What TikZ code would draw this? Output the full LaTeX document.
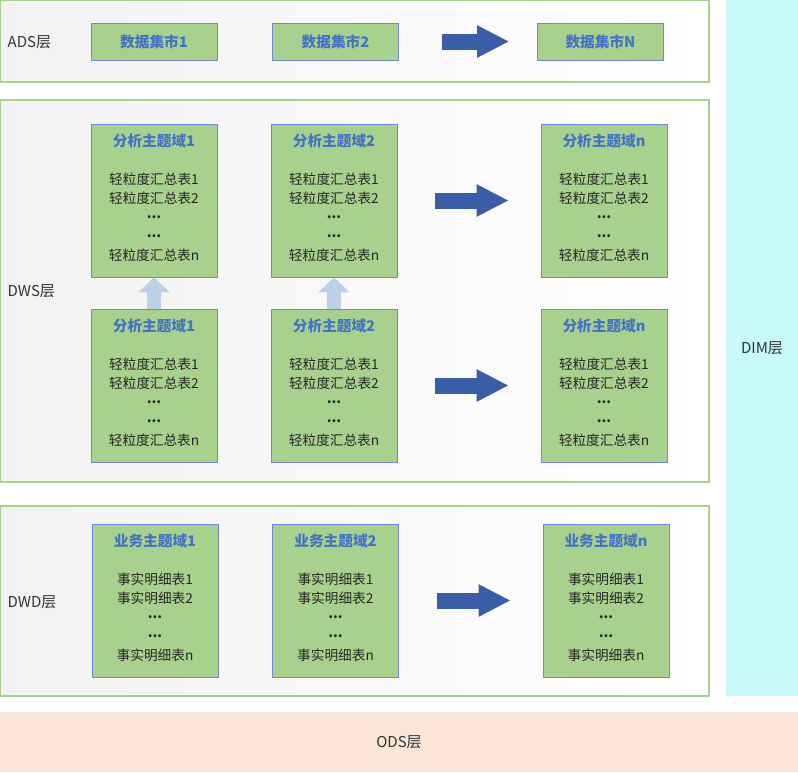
\documentclass[tikz,border=0pt]{standalone}
\usepackage{fontspec}
\setmainfont{Noto Sans CJK SC}
\usetikzlibrary{arrows.meta}
\definecolor{panelgreen}{HTML}{A9D18E}
\definecolor{boxgreen}{HTML}{A9D18E}
\definecolor{boxedge}{HTML}{7088D6}
\definecolor{titleblue}{HTML}{4472C4}
\definecolor{arrowblue}{HTML}{3A5DA8}
\definecolor{liftblue}{HTML}{BDD0EA}
\definecolor{dimcyan}{HTML}{C8FAFA}
\definecolor{odspeach}{HTML}{FBE5D6}
\newcommand\boxtitle[1]{\textcolor{titleblue}{\fontsize{11pt}{14.25pt}\selectfont\bfseries #1}}
\newcommand\moredots{\raisebox{0.28em}{\bfseries...}}
\newcommand\themetext[2]{\boxtitle{#1}\\[14.25pt] #21\\ #22\\ \moredots\\ \moredots\\ #2n\rule[-5.5pt]{0pt}{0pt}}
\tikzset{
  panel/.style={draw=panelgreen, line width=1pt, left color=black!5, right color=white},
  layer/.style={font=\fontsize{11.25pt}{13pt}\selectfont, text=black!80},
  mart/.style={draw=boxedge, fill=boxgreen, minimum width=94.5pt, minimum height=27.75pt, inner sep=0pt},
  theme/.style={draw=boxedge, fill=boxgreen, minimum width=94.5pt, minimum height=114.75pt,
    align=center, inner sep=0pt, font=\fontsize{10.25pt}{14.25pt}\selectfont, text=black!85},
  flow/.style={line width=12pt, draw=arrowblue, -{Triangle[width=22.5pt,length=24pt]},
    shorten <=28.5pt, shorten >=24pt},
  lift/.style={line width=10.5pt, draw=liftblue, -{Triangle[width=22.5pt,length=11.25pt]}}
}
\begin{document}
\begin{tikzpicture}[x=0.75pt, y=-0.75pt]
\useasboundingbox (0,0) rectangle (798,772);
% layers
\draw [panel] (0.7,0.7) rectangle (709,82);
\draw [panel] (0.7,100) rectangle (709,482);
\draw [panel] (0.7,506) rectangle (709,696);
\fill [dimcyan] (726,0) rectangle (798,696);
\fill [odspeach] (0,712) rectangle (798,772);
\node [layer, anchor=west] (adslabel) at (3,42) {ADS层};
\node [layer, anchor=west] (dwslabel) at (3,291) {DWS层};
\node [layer, anchor=west] (dwdlabel) at (3,602) {DWD层};
\node [layer] (dimlabel) at (762,348) {DIM层};
\node [layer] (odslabel) at (399,742) {ODS层};
% ADS
\node [mart] (ads1) at (154,41.5) {\boxtitle{数据集市1}};
\node [mart] (ads2) at (335.5,41.5) {\boxtitle{数据集市2}};
\node [mart] (adsN) at (600.5,41.5) {\boxtitle{数据集市N}};
% DWS
\node [theme] (top1) at (154,200.5) {\themetext{分析主题域1}{轻粒度汇总表}};
\node [theme] (top2) at (334,200.5) {\themetext{分析主题域2}{轻粒度汇总表}};
\node [theme] (topN) at (604,200.5) {\themetext{分析主题域n}{轻粒度汇总表}};
\node [theme] (bot1) at (154,385.5) {\themetext{分析主题域1}{轻粒度汇总表}};
\node [theme] (bot2) at (334,385.5) {\themetext{分析主题域2}{轻粒度汇总表}};
\node [theme] (botN) at (604,385.5) {\themetext{分析主题域n}{轻粒度汇总表}};
% DWD
\node [theme] (dwd1) at (155,600.5) {\themetext{业务主题域1}{事实明细表}};
\node [theme] (dwd2) at (335.5,600.5) {\themetext{业务主题域2}{事实明细表}};
\node [theme] (dwdN) at (606,600.5) {\themetext{业务主题域n}{事实明细表}};
% arrows
\draw [flow, shorten <=32.25pt, shorten >=21pt] (ads2) -- (adsN);
\draw [flow] (top2) -- (topN);
\draw [flow] (bot2) -- (botN);
\draw [flow] (dwd2) -- (dwdN);
\draw [lift] (bot1) -- (top1);
\draw [lift] (bot2) -- (top2);
\end{tikzpicture}
\end{document}
